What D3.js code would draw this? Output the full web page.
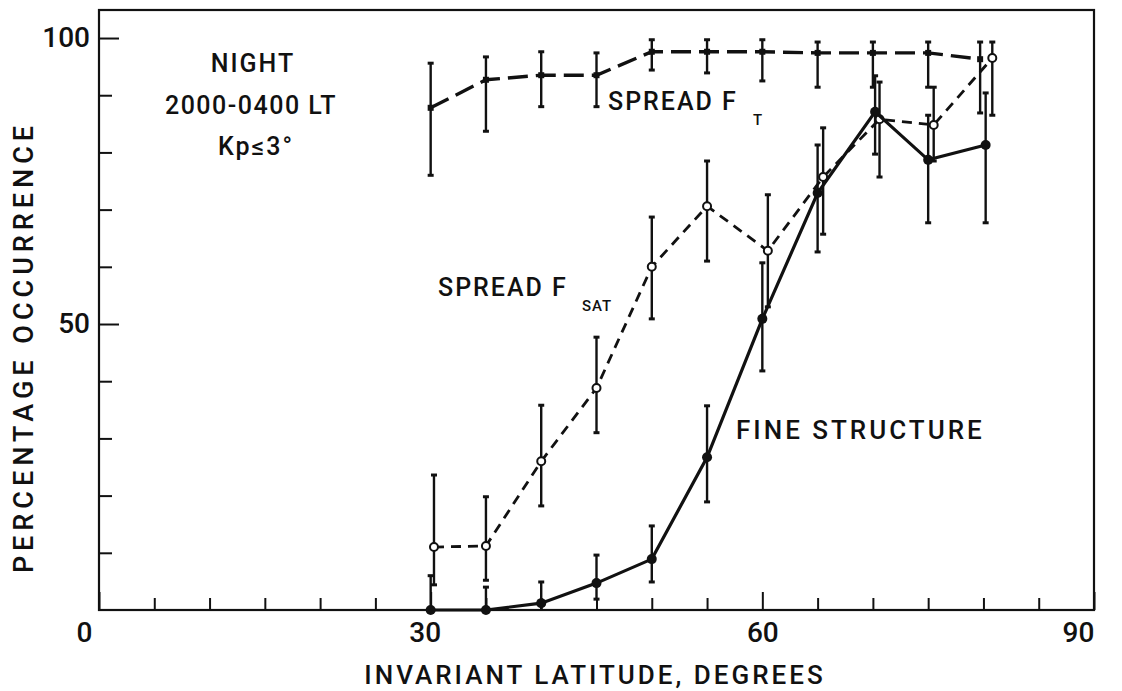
<!DOCTYPE html>
<html>
<head>
<meta charset="utf-8">
<script src="https://cdn.jsdelivr.net/npm/d3@7"></script>
<style>
  body { margin:0; background:#fff; }
  #canvas { width:1122px; height:691px; }
  text { font-family:Roboto, "DejaVu Sans", sans-serif; font-weight:500; fill:#111; }
</style>
</head>
<body>
<div id="canvas" class="canvas"></div>
<script>
// --- data (percent occurrence vs invariant latitude)
var xT     = [30, 35, 40, 45, 50, 55, 60, 65, 70, 75, 79.7];
var spreadT   = [87.8, 92.7, 93.5, 93.5, 97.6, 97.6, 97.6, 97.4, 97.4, 97.4, 96.3];
var spreadTLo = [76.0, 83.7, 88.0, 88.0, 94.4, 93.9, 92.5, 91.4, 91.4, 91.4, 86.9];
var spreadTHi = [95.6, 96.7, 97.6, 97.4, 99.7, 99.7, 99.7, 99.3, 99.3, 99.3, 99.3];

var xSat   = [30.3, 35, 40, 45, 50, 55, 60.5, 65.5, 70.6, 75.5, 80.8];
var spreadSat   = [11.0, 11.2, 26.0, 38.8, 60.0, 70.6, 62.8, 75.7, 85.8, 84.8, 96.5];
var spreadSatLo = [4.4, 5.2, 18.2, 31.0, 50.9, 61.0, 53.0, 65.7, 75.7, 78.5, 86.5];
var spreadSatHi = [23.6, 19.8, 35.8, 47.7, 68.7, 78.5, 72.6, 84.3, 92.3, 91.4, 99.3];

var xFine  = [30, 35, 40, 45, 50, 55, 60, 65, 70.2, 75, 80.2];
var fine   = [0, 0, 1.2, 4.7, 8.9, 26.7, 50.9, 72.9, 87.1, 78.7, 81.3];
var fineLo = [0, 0, 0, 1.9, 4.9, 18.9, 41.8, 62.6, 79.7, 67.7, 67.7];
var fineHi = [6.0, 4.0, 4.9, 9.6, 14.7, 35.7, 60.7, 81.3, 93.4, 86.5, 90.4];

var xMajor = [0, 30, 60, 90];
var xMinor = [5, 10, 15, 20, 25, 35, 40, 45, 50, 55, 65, 70, 75, 80, 85];
var yMajor = [50, 100];
var yMinor = [10, 20, 30, 40, 60, 70, 80, 90];

// --- Margin convention
var M = {top:10, right:28, bottom:81, left:99};
var outerWidth = 1122, outerHeight = 691;
var w = outerWidth - M.left - M.right,
    h = outerHeight - M.top - M.bottom;

var plot = d3.select('.canvas')
      .append('svg')
      .attr('width', outerWidth)
      .attr('height', outerHeight)
      .append('g')
      .attr('transform', 'translate(' + M.left + ',' + M.top + ')');

// --- Scales
var scaleX = d3.scaleLinear().domain([0, 90]).range([0, w]);
var scaleY = d3.scaleLinear().domain([0, 104.9]).range([h, 0]);

// --- frame
plot.append('rect')
  .attr('x', 0).attr('y', 0)
  .attr('width', w).attr('height', h)
  .attr('fill', 'none')
  .attr('stroke', '#111')
  .attr('stroke-width', 2.2);

// --- axes, ticks pointing inward
var xAxisMajor = d3.axisBottom(scaleX).tickValues(xMajor).tickSize(-18).tickPadding(12);
var xAxisMinor = d3.axisBottom(scaleX).tickValues(xMinor).tickSize(-12).tickFormat('');
var yAxisMajor = d3.axisLeft(scaleY).tickValues(yMajor).tickSize(-20).tickPadding(9);
var yAxisMinor = d3.axisLeft(scaleY).tickValues(yMinor).tickSize(-13).tickFormat('');

var gx = plot.append('g').attr('transform', 'translate(0,' + h + ')').call(xAxisMajor);
plot.append('g').attr('transform', 'translate(0,' + h + ')').call(xAxisMinor);
plot.append('g').call(yAxisMajor);
plot.append('g').call(yAxisMinor);

plot.selectAll('.domain').remove();
plot.selectAll('.tick line').attr('stroke', '#111').attr('stroke-width', 2);
plot.selectAll('.tick text')
  .attr('font-size', '28px')
  .attr('font-family', 'Roboto, sans-serif')
  .attr('fill', '#111');
// the printed 0 and 90 sit a little left of their ticks
var xLabelShift = [-15, -6, 0, -16];
gx.selectAll('.tick text').attr('dx', function(d, i){ return xLabelShift[i]; });

// --- series
function drawSeries(xs, ys, lo, hi, dash, width, marker){
  var pts = xs.map(function(x, i){ return {x:x, y:ys[i], lo:lo[i], hi:hi[i]}; });
  var line = d3.line()
    .x(function(d){ return scaleX(d.x); })
    .y(function(d){ return scaleY(d.y); });

  var g = plot.append('g');
  // error bars
  g.selectAll('line.err').data(pts).enter().append('line')
    .attr('x1', function(d){ return scaleX(d.x); })
    .attr('x2', function(d){ return scaleX(d.x); })
    .attr('y1', function(d){ return scaleY(d.lo); })
    .attr('y2', function(d){ return scaleY(d.hi); })
    .attr('stroke', '#111').attr('stroke-width', 2.4);
  // caps
  pts.forEach(function(d){
    [d.lo, d.hi].forEach(function(v){
      if (v <= 0) return;
      g.append('line')
        .attr('x1', scaleX(d.x) - 3).attr('x2', scaleX(d.x) + 3)
        .attr('y1', scaleY(v)).attr('y2', scaleY(v))
        .attr('stroke', '#111').attr('stroke-width', 3);
    });
  });

  g.append('path')
    .attr('d', line(pts))
    .attr('fill', 'none')
    .attr('stroke', '#111')
    .attr('stroke-width', width)
    .attr('stroke-dasharray', dash);

  if (marker == 'open') {
    g.selectAll('circle').data(pts).enter().append('circle')
      .attr('cx', function(d){ return scaleX(d.x); })
      .attr('cy', function(d){ return scaleY(d.y); })
      .attr('r', 4).attr('fill', '#fff')
      .attr('stroke', '#111').attr('stroke-width', 2);
  } else if (marker == 'dot') {
    g.selectAll('circle').data(pts).enter().append('circle')
      .attr('cx', function(d){ return scaleX(d.x); })
      .attr('cy', function(d){ return scaleY(d.y); })
      .attr('r', 5).attr('fill', '#111');
  } else {
    g.selectAll('rect.m').data(pts).enter().append('rect')
      .attr('x', function(d){ return scaleX(d.x) - 3; })
      .attr('y', function(d){ return scaleY(d.y) - 3; })
      .attr('width', 6).attr('height', 6).attr('fill', '#111');
  }
}

drawSeries(xT, spreadT, spreadTLo, spreadTHi, '20,8', 3.4, 'square');
drawSeries(xSat, spreadSat, spreadSatLo, spreadSatHi, '10,7', 2.8, 'open');
drawSeries(xFine, fine, fineLo, fineHi, null, 3.2, 'dot');

// --- labels inside the plot
var svg = d3.select('svg');
var big = '25px';
function label(x, y, t, anchor, size, spacing){
  return svg.append('text')
    .attr('x', x).attr('y', y)
    .attr('text-anchor', anchor || 'start')
    .attr('font-size', size || big)
    .attr('letter-spacing', spacing == null ? '2px' : spacing)
    .text(t);
}
label(253, 72, 'NIGHT', 'middle');
label(251, 114, '2000-0400 LT', 'middle', big, '1.5px');
label(256, 155, 'Kp\u22643\u00b0', 'middle');

label(608, 110, 'SPREAD F');
label(753, 125, 'T', 'start', '15px', '0px');

label(438, 296, 'SPREAD F');
label(582, 311, 'SAT', 'start', '15px', '1px');

label(736, 439, 'FINE STRUCTURE', 'start', '26px', '3px');

// --- axis titles
label(595, 684, 'INVARIANT LATITUDE, DEGREES', 'middle', '26px', '3px');
svg.append('text')
  .attr('transform', 'translate(33,' + 347 + ') rotate(-90)')
  .attr('text-anchor', 'middle')
  .attr('font-size', '27px')
  .attr('letter-spacing', '5px')
  .text('PERCENTAGE OCCURRENCE');
</script>
</body>
</html>
